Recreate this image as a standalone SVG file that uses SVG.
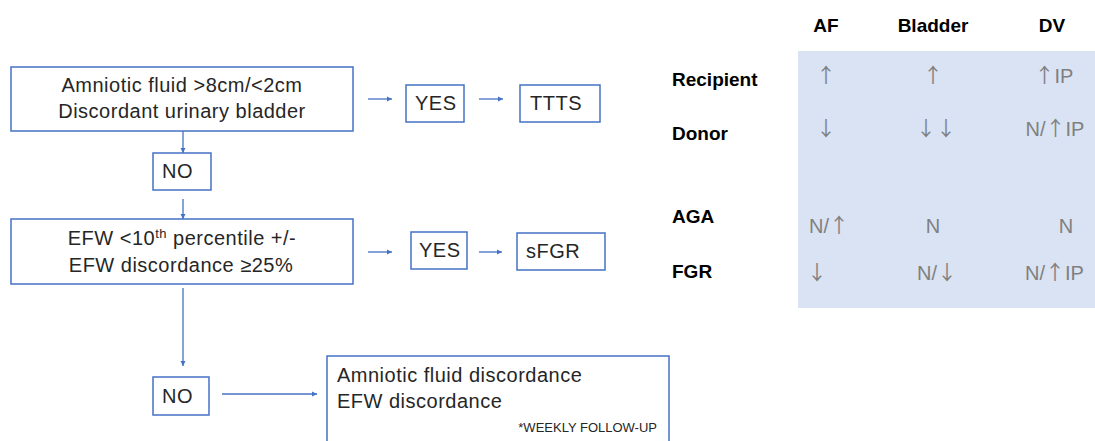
<svg xmlns="http://www.w3.org/2000/svg" width="1095" height="441" viewBox="0 0 1095 441">
<defs>
<marker id="ah" viewBox="0 0 10 10" refX="10" refY="5" markerWidth="4" markerHeight="4" orient="auto" markerUnits="strokeWidth">
<path d="M0,0 L10,5 L0,10 z" fill="#4472C4"/>
</marker>
<style>
.box{fill:#fff;stroke:#4472C4;stroke-width:1.5}
.t{font-family:"Liberation Sans",Arial,sans-serif;font-size:20px;letter-spacing:0.5px;fill:#262626}
.c{text-anchor:middle}
.sm{font-family:"Liberation Sans",Arial,sans-serif;font-size:13px;fill:#262626;text-anchor:end}
.h{font-family:"Liberation Sans",Arial,sans-serif;font-size:19px;font-weight:bold;fill:#000}
.v{font-family:"Liberation Sans",Arial,sans-serif;font-size:20px;fill:#808080;text-anchor:middle}
.a{font-family:"Noto Sans CJK JP","DejaVu Sans",sans-serif;font-size:20px}
.ln{stroke:#4472C4;stroke-width:1.3;fill:none;marker-end:url(#ah)}
</style>
</defs>
<rect width="1095" height="441" fill="#fff"/>

<g id="table">
<rect x="798" y="51" width="297" height="257" fill="#DAE3F3"/>
<text class="h c" x="826" y="32">AF</text>
<text class="h c" x="933" y="32">Bladder</text>
<text class="h c" x="1052" y="32">DV</text>
<text class="h" x="672" y="86">Recipient</text>
<text class="h" x="672" y="140">Donor</text>
<text class="h" x="672" y="223">AGA</text>
<text class="h" x="672" y="278">FGR</text>
<text class="v" x="826" y="83"><tspan class="a">↑</tspan></text>
<text class="v" x="933" y="83"><tspan class="a">↑</tspan></text>
<text class="v" x="1054" y="83"><tspan class="a">↑</tspan>IP</text>
<text class="v" x="826" y="136"><tspan class="a">↓</tspan></text>
<text class="v" x="936" y="136"><tspan class="a">↓↓</tspan></text>
<text class="v" x="1055" y="136">N/<tspan class="a">↑</tspan>IP</text>
<text class="v" x="829" y="233">N/<tspan class="a">↑</tspan></text>
<text class="v" x="933" y="233">N</text>
<text class="v" x="1066" y="233">N</text>
<text class="v" x="817" y="280"><tspan class="a">↓</tspan></text>
<text class="v" x="937" y="280">N/<tspan class="a">↓</tspan></text>
<text class="v" x="1025" y="280" text-anchor="start" style="text-anchor:start">N/<tspan class="a">↑</tspan>IP</text>
</g>

<g id="connectors">
<line class="ln" x1="183" y1="131" x2="183" y2="153"/>
<line class="ln" x1="183" y1="199" x2="183" y2="219"/>
<line class="ln" x1="183" y1="288" x2="183" y2="366"/>
<line class="ln" x1="222" y1="394" x2="317" y2="394"/>
<line class="ln" x1="368" y1="99" x2="392" y2="99"/>
<line class="ln" x1="479" y1="99" x2="503" y2="99"/>
<line class="ln" x1="368" y1="252" x2="392" y2="252"/>
<line class="ln" x1="479" y1="252" x2="502" y2="252"/>
</g>

<g id="n1">
<rect class="box" x="11" y="67" width="342" height="64"/>
<text class="t c" x="182" y="92">Amniotic fluid &gt;8cm/&lt;2cm</text>
<text class="t c" x="182" y="118">Discordant urinary bladder</text>
</g>
<g id="no1">
<rect class="box" x="153" y="153" width="58" height="37"/>
<text class="t" x="162" y="178">NO</text>
</g>
<g id="yes1">
<rect class="box" x="406" y="85" width="58" height="37"/>
<text class="t" x="415" y="110">YES</text>
</g>
<g id="ttts">
<rect class="box" x="520" y="85" width="80" height="37"/>
<text class="t" x="530" y="110">TTTS</text>
</g>
<g id="n2">
<rect class="box" x="11" y="219" width="342" height="65"/>
<text class="t c" x="182" y="245">EFW &lt;10<tspan dy="-7" font-size="13">th</tspan><tspan dy="7"> percentile +/-</tspan></text>
<text class="t c" x="181" y="272">EFW discordance ≥25%</text>
</g>
<g id="yes2">
<rect class="box" x="411" y="232" width="56" height="37"/>
<text class="t" x="419" y="257">YES</text>
</g>
<g id="sfgr">
<rect class="box" x="517" y="233" width="88" height="37"/>
<text class="t" x="526" y="258">sFGR</text>
</g>
<g id="no2">
<rect class="box" x="153" y="377" width="56" height="38"/>
<text class="t" x="162" y="403">NO</text>
</g>
<g id="n3">
<rect class="box" x="327" y="356" width="342" height="100"/>
<text class="t" x="337" y="382">Amniotic fluid discordance</text>
<text class="t" x="337" y="408">EFW discordance</text>
<text class="sm" x="657" y="432">*WEEKLY FOLLOW-UP</text>
</g>
</svg>
